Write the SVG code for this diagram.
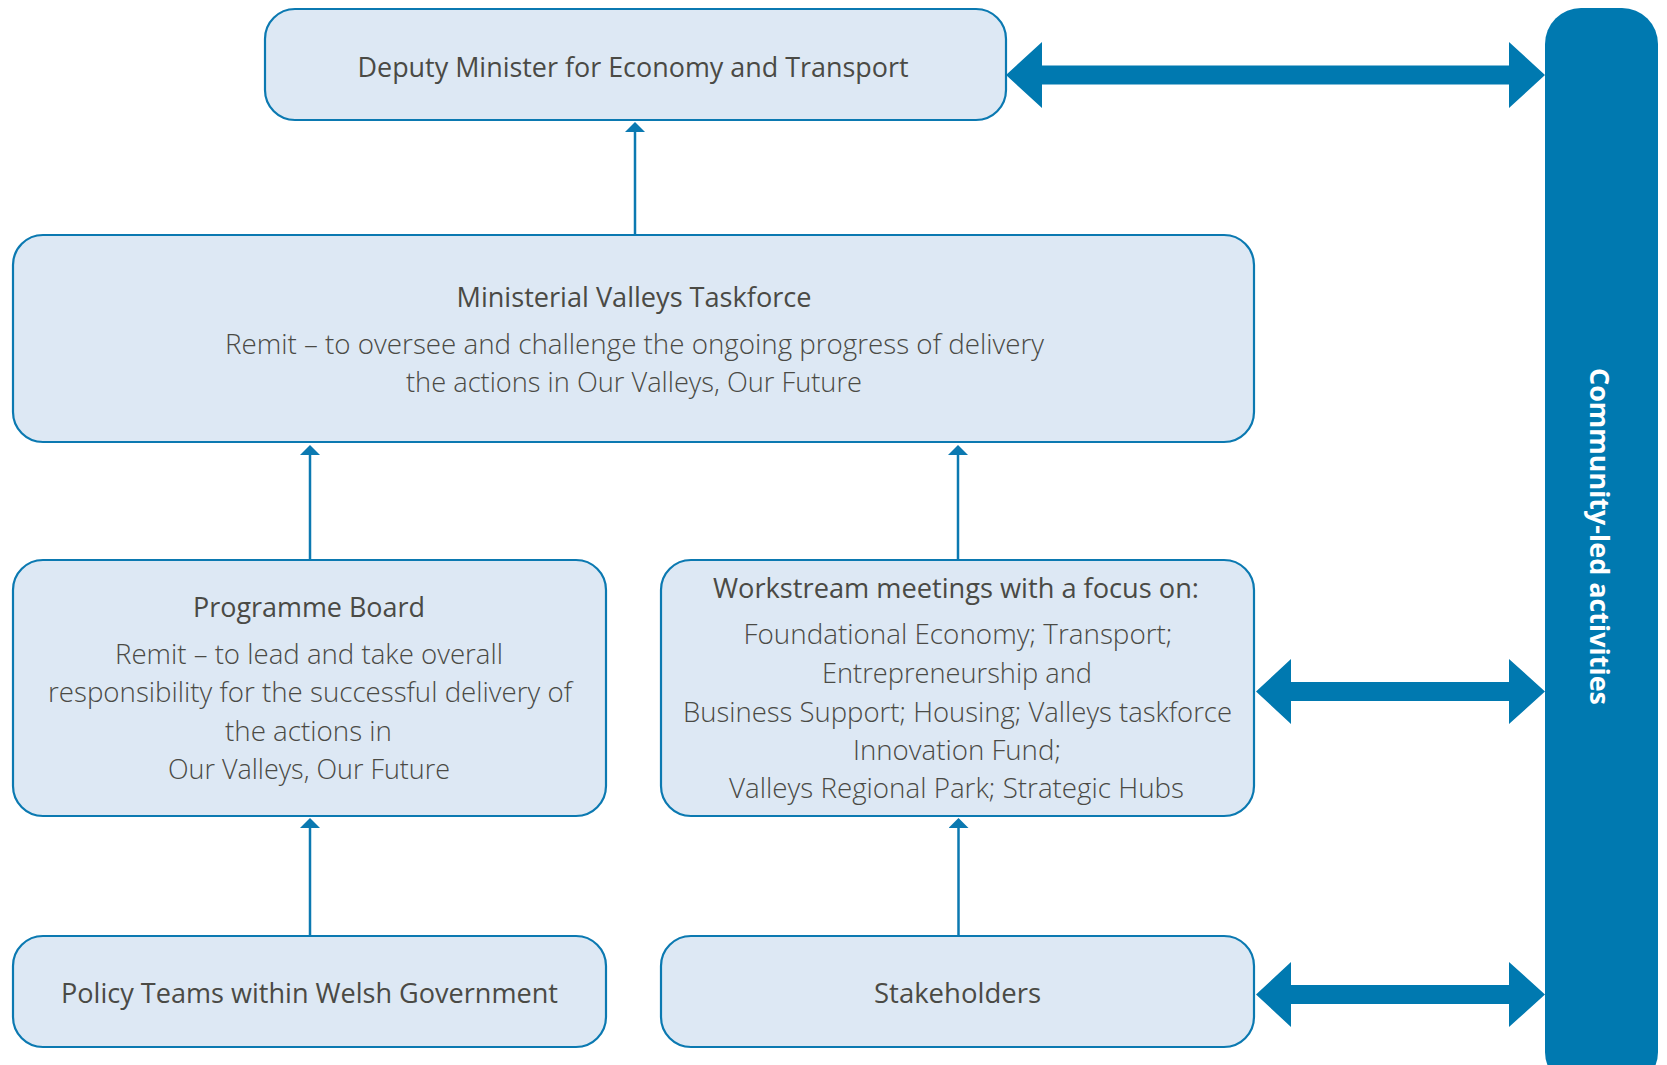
<svg xmlns="http://www.w3.org/2000/svg" width="1667" height="1065" viewBox="0 0 1667 1065">
<style>
.box{fill:#dde8f4;stroke:#0b79b1;stroke-width:2.2}
.t{font-family:"Open Sans","Liberation Sans",sans-serif;font-size:28px;fill:#4a4a45;text-anchor:middle}
.h{font-weight:500}
.b{font-weight:300}
.conn{stroke:#0b79b1;stroke-width:2.5;fill:none}
.big{fill:#0079b0}
.bartext{font-family:"Open Sans","Liberation Sans",sans-serif;font-size:27px;font-weight:700;fill:#ffffff;text-anchor:middle}
</style>
<defs>
<marker id="ah" viewBox="0 0 10 20" refX="0" refY="10" markerWidth="10" markerHeight="20" markerUnits="userSpaceOnUse" orient="auto">
<path d="M0,0 L10,10 L0,20 Z" fill="#0b79b1"/>
</marker>
</defs>

<g id="community">
<rect x="1545" y="8" width="113" height="1080" rx="36" ry="36" class="big"/>
<text class="bartext" transform="translate(1590,536.5) rotate(90)" x="0" y="0" textLength="337" lengthAdjust="spacingAndGlyphs">Community-led activities</text>
</g>

<g id="deputy">
<rect class="box" x="265" y="9" width="741" height="111" rx="30" ry="30"/>
<text class="t h" x="633" y="77" textLength="551" lengthAdjust="spacingAndGlyphs">Deputy Minister for Economy and Transport</text>
</g>

<g id="taskforce">
<rect class="box" x="13" y="235" width="1241" height="207" rx="30" ry="30"/>
<text class="t h" x="634" y="307" textLength="355" lengthAdjust="spacingAndGlyphs">Ministerial Valleys Taskforce</text>
<text class="t b" x="634.5" y="354" textLength="819" lengthAdjust="spacingAndGlyphs">Remit – to oversee and challenge the ongoing progress of delivery</text>
<text class="t b" x="634" y="392" textLength="456" lengthAdjust="spacingAndGlyphs">the actions in Our Valleys, Our Future</text>
</g>

<g id="programme">
<rect class="box" x="13" y="560" width="593" height="256" rx="30" ry="30"/>
<text class="t h" x="309" y="617" textLength="232" lengthAdjust="spacingAndGlyphs">Programme Board</text>
<text class="t b" x="309" y="664" textLength="388" lengthAdjust="spacingAndGlyphs">Remit – to lead and take overall</text>
<text class="t b" x="310" y="702" textLength="524" lengthAdjust="spacingAndGlyphs">responsibility for the successful delivery of</text>
<text class="t b" x="308.5" y="741" textLength="167" lengthAdjust="spacingAndGlyphs">the actions in</text>
<text class="t b" x="309" y="779" textLength="282" lengthAdjust="spacingAndGlyphs">Our Valleys, Our Future</text>
</g>

<g id="workstream">
<rect class="box" x="661" y="560" width="593" height="256" rx="30" ry="30"/>
<text class="t h" x="956" y="598" textLength="486" lengthAdjust="spacingAndGlyphs">Workstream meetings with a focus on:</text>
<text class="t b" x="958" y="644" textLength="429" lengthAdjust="spacingAndGlyphs">Foundational Economy; Transport;</text>
<text class="t b" x="957" y="683" textLength="270" lengthAdjust="spacingAndGlyphs">Entrepreneurship and</text>
<text class="t b" x="957.5" y="722" textLength="549" lengthAdjust="spacingAndGlyphs">Business Support; Housing; Valleys taskforce</text>
<text class="t b" x="957" y="760" textLength="208" lengthAdjust="spacingAndGlyphs">Innovation Fund;</text>
<text class="t b" x="956.5" y="798" textLength="455" lengthAdjust="spacingAndGlyphs">Valleys Regional Park; Strategic Hubs</text>
</g>

<g id="policy">
<rect class="box" x="13" y="936" width="593" height="111" rx="30" ry="30"/>
<text class="t h" x="309.5" y="1003" textLength="497" lengthAdjust="spacingAndGlyphs">Policy Teams within Welsh Government</text>
</g>

<g id="stakeholders">
<rect class="box" x="661" y="936" width="593" height="111" rx="30" ry="30"/>
<text class="t h" x="957.5" y="1003" textLength="167" lengthAdjust="spacingAndGlyphs">Stakeholders</text>
</g>

<g id="connectors">
<line class="conn" x1="635" y1="235" x2="635" y2="132" marker-end="url(#ah)"/>
<line class="conn" x1="310" y1="560" x2="310" y2="455" marker-end="url(#ah)"/>
<line class="conn" x1="958" y1="560" x2="958" y2="455" marker-end="url(#ah)"/>
<line class="conn" x1="310" y1="936" x2="310" y2="828" marker-end="url(#ah)"/>
<line class="conn" x1="958.5" y1="936" x2="958.5" y2="828" marker-end="url(#ah)"/>
<polygon class="big" points="1006,75 1042,42 1042,65.5 1509,65.5 1509,42 1545,75 1509,108 1509,84.5 1042,84.5 1042,108"/>
<polygon class="big" points="1256,691.5 1291,659 1291,682 1509,682 1509,659 1545,691.5 1509,724 1509,701 1291,701 1291,724"/>
<polygon class="big" points="1256,994.5 1291,962 1291,985 1509,985 1509,962 1545,994.5 1509,1027 1509,1004 1291,1004 1291,1027"/>
</g>
</svg>
